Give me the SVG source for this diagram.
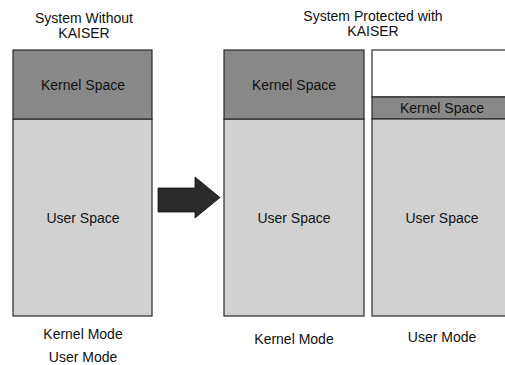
<svg xmlns="http://www.w3.org/2000/svg" width="505" height="365" viewBox="0 0 505 365">
<style>
text{font-family:"Liberation Sans",Arial,Helvetica,sans-serif;font-size:14px;fill:#111;text-anchor:middle}
.k{fill:#888888;stroke:#2a2a2a;stroke-width:1.2}
.u{fill:#d1d1d1;stroke:#2a2a2a;stroke-width:1.2}
.w{fill:#ffffff;stroke:#2a2a2a;stroke-width:1.2}
</style>
<rect width="505" height="365" fill="#ffffff"/>
<g id="title-left"><text x="84" y="23">System Without</text><text x="84" y="38">KAISER</text></g>
<g id="title-right"><text x="373" y="21">System Protected with</text><text x="373" y="36">KAISER</text></g>
<g id="left-column">
<rect class="u" x="13" y="119" width="139" height="197"/>
<rect class="k" x="13" y="50" width="139" height="69"/>
<text x="83" y="90">Kernel Space</text>
<text x="83" y="223">User Space</text>
</g>
<g id="middle-column">
<rect class="u" x="224" y="119" width="140" height="197"/>
<rect class="k" x="224" y="50" width="140" height="69"/>
<text x="294" y="90">Kernel Space</text>
<text x="294" y="223">User Space</text>
</g>
<g id="right-column">
<rect class="w" x="372" y="50" width="140" height="47"/>
<rect class="k" x="372" y="97" width="140" height="22"/>
<rect class="u" x="372" y="119" width="140" height="197"/>
<text x="442" y="113">Kernel Space</text>
<text x="442" y="223">User Space</text>
</g>
<g id="connectors">
<polygon points="158,188 195,188 195,177 220,197.5 195,218 195,212 158,212" fill="#2b2b2b" stroke="#111" stroke-width="0.8"/>
</g>
<g id="labels">
<text x="83" y="339">Kernel Mode</text>
<text x="83" y="362">User Mode</text>
<text x="294" y="344">Kernel Mode</text>
<text x="442" y="342">User Mode</text>
</g>
</svg>
